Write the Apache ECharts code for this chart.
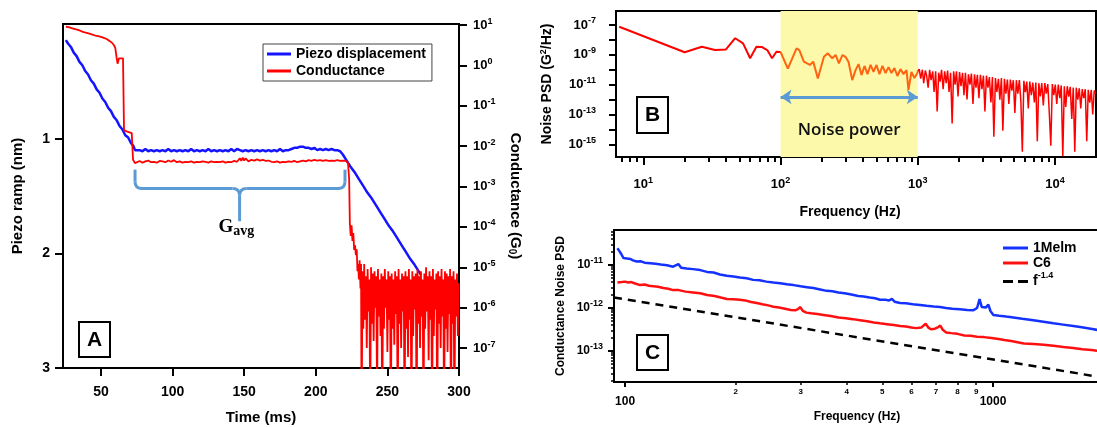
<!DOCTYPE html>
<html><head><meta charset="utf-8">
<script src="https://cdn.jsdelivr.net/npm/echarts@6/dist/echarts.min.js"></script>
<style>html,body{margin:0;padding:0;background:#fff}#c{width:1097px;height:427px}</style>
</head><body><div id="c"></div>
<script>
// ---------- Panel A data ----------
const timeTicks = [50, 100, 150, 200, 250, 300];
const piezoTicks = [1, 2, 3];
const condTicks = [10, 1, 0.1, 0.01, 1e-3, 1e-4, 1e-5, 1e-6, 1e-7];
const piezoA = [
[25.5,0.14],[27,0.17],[29,0.2],[31,0.25],[33,0.28],[35,0.33],[37,0.36],[39,0.41],[41,0.44],[43,0.49],[45,0.52],[47,0.57],[49,0.6],[51,0.65],[53,0.68],[55,0.73],[57,0.76],[59,0.81],[61,0.84],[63,0.89],[65,0.92],[67,0.97],[69,0.99],[71,1.04],[72.5,1.06],[73.8,1.1],[75,1.11],[77,1.1],[79,1.11],[81,1.09],[83,1.11],[85,1.1],[87,1.11],[89,1.1],[91,1.11],[93,1.1],[95,1.11],[97,1.09],[99,1.11],[101,1.1],[103,1.11],[105,1.1],[107,1.11],[109,1.1],[111,1.11],[113,1.09],[115,1.11],[117,1.1],[119,1.11],[121,1.1],[123,1.11],[125,1.09],[127,1.11],[129,1.1],[131,1.11],[133,1.1],[135,1.11],[137,1.1],[139,1.11],[141,1.09],[143,1.11],[145,1.09],[147,1.1],[149,1.11],[151,1.1],[153,1.11],[155,1.1],[157,1.11],[159,1.1],[161,1.11],[163,1.1],[165,1.11],[167,1.1],[169,1.11],[171,1.1],[173,1.11],[175,1.09],[177,1.11],[179,1.1],[181,1.1],[183,1.09],[185,1.08],[187,1.08],[189,1.07],[191,1.07],[193,1.08],[195,1.08],[197,1.09],[199,1.08],[201,1.1],[203,1.09],[205,1.1],[207,1.09],[209,1.1],[211,1.09],[213,1.1],[215,1.1],[217,1.11],[219,1.14],[221,1.18],[224,1.24],[227,1.29],[230,1.35],[233,1.41],[236,1.47],[239,1.52],[242,1.58],[245,1.64],[248,1.7],[251,1.76],[254,1.81],[257,1.87],[260,1.93],[263,1.99],[266,2.05],[269,2.1],[272,2.16],[273.5,2.19]
];
const condA = [
[25.5,9.1],[28,8.7],[30,8.3],[32,7.9],[34,7.6],[36,7.1],[38,6.7],[40,6.4],[42,6.1],[44,5.8],[46,5.5],[48,5.3],[50,5.1],[52,4.8],[54,4.5],[56,4.0],[57.5,3.7],[59,3.2],[60,2.7],[61,1.5],[61.6,1.1],[62.1,1.0],[62.6,1.5],[65.4,1.5],[66.1,0.025],[68.2,0.023],[70,0.022],[71.5,0.021],[72.4,0.0046],[73.8,0.0038],
[75,4.0e-3],[77,4.3e-3],[79,3.9e-3],[81,4.2e-3],[83,4.4e-3],[85,4.0e-3],[87,4.1e-3],[89,3.9e-3],[91,4.3e-3],[93,4.2e-3],[95,4.0e-3],[97,4.4e-3],[99,4.1e-3],[101,4.5e-3],[103,4.0e-3],[105,4.2e-3],[107,3.9e-3],[109,4.1e-3],[111,4.0e-3],[113,4.2e-3],[115,3.9e-3],[117,4.1e-3],[119,4.0e-3],[121,4.2e-3],[123,4.1e-3],[125,3.9e-3],[127,4.2e-3],[129,4.0e-3],[131,4.1e-3],[133,4.0e-3],[135,4.2e-3],[137,3.9e-3],[139,4.1e-3],[141,4.0e-3],[143,4.3e-3],[145,4.1e-3],[147,5.0e-3],[148,4.3e-3],[149,5.2e-3],[150,4.4e-3],[151,5.0e-3],[153,4.2e-3],[155,4.6e-3],[157,4.4e-3],[159,4.7e-3],[161,4.4e-3],[163,4.6e-3],[165,4.3e-3],[167,4.4e-3],[169,4.1e-3],[171,4.0e-3],[173,4.2e-3],[175,3.9e-3],[177,4.1e-3],[179,4.0e-3],[181,4.2e-3],[183,4.1e-3],[185,4.3e-3],[187,4.0e-3],[189,4.2e-3],[191,4.4e-3],[193,4.2e-3],[195,4.5e-3],[197,4.3e-3],[199,4.6e-3],[201,4.4e-3],[203,4.5e-3],[205,4.3e-3],[207,4.5e-3],[209,4.3e-3],[211,4.4e-3],[213,4.3e-3],[215,4.5e-3],[217,4.3e-3],[219,4.4e-3],[221,4.3e-3],
[222.5,3.8e-3],[223.3,1.5e-3],[223.8,1.2e-4],[224.4,6e-5],[225.0,1.1e-4],[225.6,4.5e-5],[226.2,7e-5],[226.8,2.7e-5],[227.4,3.5e-5],[228.0,2e-5],[228.6,2.8e-5],[229.1,8e-6],[229.6,1.2e-5],[230.1,5e-6],[230.6,1.5e-5],[231.2,3e-6],[231.6,1.2e-5],
[232.0,1e-9],[232.6,8e-6],[233.2,3e-7],[233.8,1.2e-5],[234.4,5e-7],[235.0,6e-6],[235.6,1e-7],[236.2,9e-6],[236.8,8e-7],[237.4,5e-6],[238.0,2e-9],[238.6,1e-5],[239.2,4e-7],[239.8,7e-6],[240.4,1.5e-7],[241.0,8e-6],[241.6,1e-6],[242.2,6e-6],[242.8,5e-9],[243.4,9e-6],[244.0,6e-7],[244.6,5e-6],[245.2,2e-7],[245.8,7e-6],[246.4,1e-9],[247.0,6e-6],[247.6,3e-7],[248.2,9e-6],[248.8,1e-6],[249.4,5e-6],[250.0,8e-8],[250.6,8e-6],[251.2,5e-7],[251.8,6e-6],[252.4,1e-9],[253.0,7e-6],[253.6,3e-7],[254.2,5e-6],[254.8,1.2e-7],[255.4,8e-6],[256.0,7e-7],[256.6,6e-6],[257.2,1e-9],[257.8,9e-6],[258.4,4e-7],[259.0,5e-6],[259.6,1e-7],[260.2,7e-6],[260.8,8e-7],[261.4,6e-6],[262.0,1e-9],[262.6,8e-6],[263.2,3e-7],[263.8,6e-6],[264.4,6e-8],[265.0,9e-6],[265.6,5e-7],[266.2,5e-6],[266.8,1e-9],[267.4,8e-6],[268.0,2e-7],[268.6,6e-6],[269.2,9e-7],[269.8,7e-6],[270.4,1e-9],[271.0,9e-6],[271.6,4e-7],[272.2,6e-6],[272.8,1e-7],[273.4,8e-6],[274.0,6e-7],[274.6,5e-6],[275.2,1e-9],[275.8,7e-6],[276.4,3e-7],[277.0,1e-5],[277.6,8e-7],[278.2,6e-6],[278.8,5e-8],[279.4,8e-6],[280.0,5e-7],[280.6,6e-6],[281.2,1e-9],[281.8,9e-6],[282.4,2e-7],[283.0,5e-6],[283.6,9e-7],[284.2,7e-6],[284.8,1e-9],[285.4,8e-6],[286.0,4e-7],[286.6,6e-6],[287.2,1e-7],[287.8,9e-6],[288.4,6e-7],[289.0,5e-6],[289.6,1e-9],[290.2,8e-6],[290.8,3e-7],[291.4,7e-6],[292.0,8e-8],[292.6,6e-6],[293.2,7e-7],[293.8,9e-6],[294.4,1e-9],[295.0,6e-6],[295.6,4e-7],[296.2,8e-6],[296.8,1e-9],[297.4,5e-6],[298.0,6e-7],[298.6,7e-6],[299.2,2e-7],[299.8,4e-6]
];

// ---------- Panel B data ----------
const freqBMajor = [10, 100, 1000, 10000];
const freqBMinor = [7,8,9,20,30,40,50,60,70,80,90,200,300,400,500,600,700,800,900,2000,3000,4000,5000,6000,7000,8000,9000];
const psdBTicks = [1e-7,1e-8,1e-9,1e-10,1e-11,1e-12,1e-13,1e-14,1e-15];
const psdBLabels = [1e-7,1e-9,1e-11,1e-13,1e-15];
const noiseBand = [100, 1000];
const noiseArrowLevel = 1.5e-12;
const psdB = [
[6.67,7.7e-8],[20,1.5e-9],[26.7,3.5e-9],[33.3,2.1e-9],[40,2.3e-9],[46.7,1.3e-8],[53.3,5.9e-9],[60,5.9e-10],[66.7,3.5e-9],[73.3,3.3e-9],[80,2.1e-9],[86.7,5.9e-10],[93.3,1.6e-9],[100,1.55e-9],
[113,1.2e-10],[130.8,2.7e-9],[137,2.1e-9],[147.8,3.5e-10],[163.6,2.1e-10],[173,3.5e-10],[187,2.6e-11],[207,7.4e-10],[221,1.26e-9],[238,5.9e-10],[252,9.8e-10],[266,2.7e-10],[283,9.8e-10],[298,7.1e-10],[313,3.3e-10],[333,2.0e-11],[352,9.5e-11],[370,2.4e-10],[389,4.4e-11],[409,1.8e-10],[430,5.1e-11],[453,2.1e-10],[476,7.1e-11],[500,2.1e-10],[526,5.1e-11],[553,1.8e-10],[582,6.0e-11],[612,1.5e-10],[643,6.0e-11],[676,1.3e-10],[711,3.8e-11],[748,1.1e-10],[787,5.1e-11],[828,9.5e-11],[855,4.4e-12],[899,7.1e-11],[945,2.8e-11],[994,6.0e-11],[1000,7.9e-11],
[1025,1.1e-10],[1050,2.5e-11],[1080,1e-10],[1105,1.26e-11],[1135,8.9e-11],[1160,4e-11],[1190,6.3e-12],[1220,1e-10],[1250,2e-11],[1285,7.9e-11],[1315,3.2e-12],[1350,7.9e-11],[1385,1.6e-13],[1420,6.3e-11],[1455,1.6e-11],[1490,1e-10],[1530,5e-12],[1570,7.9e-11],[1610,1.26e-11],[1650,8.9e-11],[1690,3.2e-12],[1735,6.3e-11],[1780,2.5e-14],[1825,7.9e-11],[1870,1e-11],[1915,7.9e-11],[1965,1.6e-12],[2015,7.1e-11],[2065,7.9e-12],[2120,6.3e-11],[2170,2e-12],[2225,6.3e-11],[2285,1e-12],[2340,5e-11],[2400,1e-11],[2460,5.6e-11],[2525,5e-13],[2590,5e-11],[2655,6.3e-12],[2720,4.5e-11],[2790,1.26e-12],[2860,4.5e-11],[2935,5e-12],[3010,4e-11],[3085,1.6e-13],[3165,4e-11],[3245,6.3e-12],[3325,3.2e-11],[3410,6.3e-13],[3500,3.2e-11],[3585,3.2e-15],[3680,2.8e-11],[3770,3.2e-12],[3870,2.5e-11],[3965,1e-12],[4070,2.8e-11],[4170,8e-15],[4280,2.5e-11],[4385,2.5e-12],[4500,2.2e-11],[4610,5e-13],[4730,2.2e-11],[4850,4e-12],[4970,2e-11],[5100,1.26e-13],[5230,2e-11],[5360,2.5e-12],[5500,2e-11],[5640,7.9e-13],[5780,3.2e-16],[5930,1.8e-11],[6080,3.2e-12],[6230,1.6e-11],[6390,2.5e-13],[6550,1.6e-11],[6720,2e-12],[6890,1.4e-11],[7070,6.3e-13],[7250,1.4e-11],[7430,1.6e-15],[7620,1.26e-11],[7810,1.6e-12],[8010,1.26e-11],[8220,4e-13],[8430,1.26e-11],[8640,2.5e-12],[8860,1.1e-11],[9090,1.26e-13],[9320,8e-16],[9560,1.1e-11],[9800,2e-12],[10050,1e-11],[10300,5e-13],[10570,1e-11],[10840,1.26e-12],[11110,8.9e-12],[11400,1.6e-16],[11690,7.9e-12],[11980,3.2e-13],[12290,7.9e-12],[12600,1.6e-12],[12920,7.1e-12],[13250,5e-14],[13590,6.3e-12],[13940,3.2e-16],[14290,6.3e-12],[14660,1e-12],[15030,5.6e-12],[15410,2.5e-13],[15800,5e-12],[16200,1.26e-12],[16620,5e-12],[17040,1.6e-15],[17470,4.5e-12],[17920,6.3e-13],[18380,4.5e-12],[18840,1e-13],[19320,4e-12],[19810,2.5e-12]
];

// ---------- Panel C data ----------
const freqCMajor = [100, 1000];
const freqCMinor = [200, 300, 400, 500, 600, 700, 800, 900];
const psdCMajor = [1e-11, 1e-12, 1e-13];
const psdCMinor = [2e-14,3e-14,4e-14,5e-14,6e-14,7e-14,8e-14,9e-14,2e-13,3e-13,4e-13,5e-13,6e-13,7e-13,8e-13,9e-13,2e-12,3e-12,4e-12,5e-12,6e-12,7e-12,8e-12,9e-12,2e-11,3e-11,4e-11,5e-11,6e-11];
const melmC = [
[95.3,2.45e-11],[96.5,2.1e-11],[97.8,1.75e-11],[99,1.45e-11],[100,1.32e-11],[101,1.42e-11],[102,1.5e-11],[103.5,1.38e-11],[105,1.28e-11],[107.6,1.2e-11],[110,1.22e-11],[113,1.13e-11],[117,1.1e-11],[121,1.07e-11],[125,1.02e-11],[130,9.8e-12],[135,9.1e-12],[139.6,1.05e-11],[142,8.6e-12],[147,8.3e-12],[153,8.0e-12],[160,7.6e-12],[167,6.9e-12],[174,6.7e-12],[181,6.0e-12],[189,5.6e-12],[197,5.4e-12],[205,5.1e-12],[214,4.9e-12],[223,4.5e-12],[232,4.4e-12],[242,4.1e-12],[253,3.9e-12],[264,3.75e-12],[275,3.55e-12],[287,3.4e-12],[300,3.2e-12],[312,3.05e-12],[325,2.9e-12],[339,2.7e-12],[353,2.5e-12],[366,2.45e-12],[380,2.3e-12],[395,2.2e-12],[412,2.05e-12],[430,1.9e-12],[445,1.85e-12],[462,1.75e-12],[478,1.68e-12],[493,1.55e-12],[510,1.55e-12],[522,1.5e-12],[531,1.62e-12],[540,1.4e-12],[559,1.3e-12],[580,1.28e-12],[605,1.22e-12],[633,1.17e-12],[660,1.12e-12],[690,1.08e-12],[718,1.05e-12],[745,1.0e-12],[775,9.6e-13],[813,9.3e-13],[850,9.0e-13],[885,8.9e-13],[905,1.0e-12],[919,1.6e-12],[932,1.05e-12],[942,9.8e-13],[956,1.02e-12],[971,1.2e-12],[984,8.5e-13],[1002,6.9e-13],[1040,6.6e-13],[1085,6.3e-13],[1136,6.0e-13],[1200,5.6e-13],[1288,5.2e-13],[1370,4.8e-13],[1460,4.4e-13],[1550,4.1e-13],[1653,3.8e-13],[1760,3.5e-13],[1860,3.25e-13],[1953,3.0e-13]
];
const c6C = [
[95.3,3.9e-12],[96.5,4.2e-12],[98,4.0e-12],[100,4.1e-12],[102,3.9e-12],[104,4.0e-12],[106.5,3.7e-12],[109.8,3.4e-12],[113,3.5e-12],[116,3.3e-12],[119.4,3.2e-12],[123,3.1e-12],[127,2.9e-12],[131,2.8e-12],[135,2.6e-12],[140,2.6e-12],[146,2.4e-12],[153,2.3e-12],[160,2.2e-12],[167,2.0e-12],[175,1.9e-12],[182,1.75e-12],[189,1.62e-12],[197,1.6e-12],[205,1.55e-12],[212,1.5e-12],[220,1.38e-12],[228,1.3e-12],[236,1.22e-12],[245,1.15e-12],[253,1.07e-12],[262,1.02e-12],[272,9.6e-13],[282,9.0e-13],[290,8.8e-13],[295,9.4e-13],[299,1.05e-12],[304,8.6e-13],[311,7.8e-13],[320,7.5e-13],[333,7.2e-13],[346,6.9e-13],[362,6.5e-13],[380,6.0e-13],[398,5.8e-13],[416,5.5e-13],[435,5.2e-13],[455,4.9e-13],[474,4.6e-13],[493,4.4e-13],[515,4.2e-13],[537,4.0e-13],[559,3.8e-13],[580,3.7e-13],[600,3.5e-13],[618,3.4e-13],[638,3.5e-13],[656,4.3e-13],[667,3.5e-13],[678,3.2e-13],[695,3.3e-13],[710,3.6e-13],[719,3.9e-13],[730,3.1e-13],[746,2.7e-13],[770,2.6e-13],[800,2.5e-13],[836,2.3e-13],[870,2.25e-13],[905,2.15e-13],[945,2.1e-13],[990,2.0e-13],[1035,1.9e-13],[1073,1.8e-13],[1120,1.7e-13],[1165,1.6e-13],[1213,1.5e-13],[1290,1.45e-13],[1372,1.4e-13],[1460,1.32e-13],[1553,1.23e-13],[1650,1.17e-13],[1750,1.1e-13],[1850,1.05e-13],[1953,1.0e-13]
];
const powerLawC = [[93.3,1.76e-12],[1953,2.48e-14]];

// ---------- styling helpers ----------
const F = '"Liberation Sans", Arial, sans-serif';
const BLACK = '#000';
const supFmt = v => '{b|10}{s|' + Math.round(Math.log10(v)) + '}';
function richSup(base, sup, pad) {
  return {
    b: {fontFamily: F, fontWeight: 'bold', fontSize: base, color: BLACK},
    s: {fontFamily: F, fontWeight: 'bold', fontSize: sup, color: BLACK, padding: [0, 0, pad, 0]}
  };
}
const line2 = {show: true, onZero: false, lineStyle: {color: BLACK, width: 2}};
const tick = (vals, len, w) => ({show: true, inside: false, customValues: vals, length: len, lineStyle: {color: BLACK, width: w || 2}});
const nameStyle = size => ({fontFamily: F, fontWeight: 'bold', fontSize: size, color: BLACK});
const lblStyle = size => ({fontFamily: F, fontWeight: 'bold', fontSize: size, color: BLACK});
const LINE_ICON = 'rect';
const DASH_ICON = 'path://M0,0h10v3h-10z M15,0h10v3h-10z';

const option = {
  animation: false,
  backgroundColor: '#fff',
  grid: [
    {id: 'gA', left: 63, top: 24, width: 396, height: 344, show: true, borderColor: BLACK, borderWidth: 2, backgroundColor: 'rgba(0,0,0,0)', outerBoundsMode: 'none', containLabel: false},
    {id: 'gB', left: 616, top: 11, width: 480, height: 146, show: true, borderColor: BLACK, borderWidth: 2, backgroundColor: 'rgba(0,0,0,0)', outerBoundsMode: 'none', containLabel: false},
    {id: 'gC', left: 614, top: 230, width: 486, height: 152, show: true, borderColor: BLACK, borderWidth: 2, backgroundColor: 'rgba(0,0,0,0)', outerBoundsMode: 'none', containLabel: false}
  ],
  xAxis: [
    {gridIndex: 0, type: 'value', position: 'bottom', min: 23.5, max: 300, axisLine: line2, axisTick: tick(timeTicks, 8),
     axisLabel: Object.assign({customValues: timeTicks, margin: 17}, lblStyle(14)), splitLine: {show: false},
     name: 'Time (ms)', nameLocation: 'middle', nameGap: 42, nameTextStyle: nameStyle(15)},
    {gridIndex: 1, type: 'log', position: 'bottom', min: 6.32, max: 19900, axisLine: line2, axisTick: tick(freqBMajor, 8),
     axisLabel: {customValues: freqBMajor, formatter: supFmt, rich: richSup(13, 9, 8), margin: 19}, splitLine: {show: false},
     name: 'Frequency (Hz)', nameLocation: 'middle', nameGap: 48, nameTextStyle: Object.assign({padding: [0, 12, 0, 0]}, nameStyle(14))},
    {gridIndex: 1, type: 'log', position: 'bottom', min: 6.32, max: 19900, axisLine: {show: false, onZero: false}, axisTick: tick(freqBMinor, 5),
     axisLabel: {show: false}, splitLine: {show: false}},
    {gridIndex: 2, type: 'log', position: 'bottom', min: 93.3, max: 1953, axisLine: line2, axisTick: tick(freqCMajor, 5),
     axisLabel: Object.assign({customValues: freqCMajor, margin: 14, formatter: v => String(Math.round(v))}, lblStyle(12)), splitLine: {show: false},
     name: 'Frequency (Hz)', nameLocation: 'middle', nameGap: 29, nameTextStyle: nameStyle(12)},
    {gridIndex: 2, type: 'log', position: 'bottom', min: 93.3, max: 1953, axisLine: {show: false, onZero: false}, axisTick: tick(freqCMinor, 3, 1.5),
     axisLabel: Object.assign({customValues: freqCMinor, margin: 6, formatter: v => String(Math.round(v / 100))}, lblStyle(8)), splitLine: {show: false}}
  ],
  yAxis: [
    {gridIndex: 0, type: 'value', inverse: true, min: 0, max: 3, position: 'left', axisLine: line2, axisTick: tick(piezoTicks, 8),
     axisLabel: Object.assign({customValues: piezoTicks, margin: 13}, lblStyle(14)), splitLine: {show: false},
     name: 'Piezo ramp (nm)', nameLocation: 'middle', nameGap: 38, nameTextStyle: nameStyle(15)},
    {gridIndex: 0, type: 'log', min: 3.2e-8, max: 10.6, position: 'right', axisLine: line2, axisTick: tick(condTicks, 8),
     axisLabel: {customValues: condTicks, formatter: supFmt, rich: richSup(13, 9, 8), margin: 14}, splitLine: {show: false},
     name: '{n|Conductance (G}{u|0}{n|)}', nameLocation: 'middle', nameRotate: -90, nameGap: 48,
     nameTextStyle: {rich: {n: nameStyle(15), u: Object.assign({padding: [7, 0, 0, 0]}, nameStyle(10))}}},
    {gridIndex: 1, type: 'log', min: 1.41e-16, max: 8.7e-7, position: 'left', axisLine: line2, axisTick: tick(psdBTicks, 7),
     axisLabel: {customValues: psdBLabels, formatter: supFmt, rich: richSup(13, 9, 8), margin: 20}, splitLine: {show: false},
     name: '{n|Noise PSD (G}{u|2}{n|/Hz)}', nameLocation: 'middle', nameGap: 61,
     nameTextStyle: {rich: {n: nameStyle(14), u: Object.assign({padding: [0, 0, 7, 0]}, nameStyle(9))}}},
    {gridIndex: 2, type: 'log', min: 1.9e-14, max: 6.5e-11, position: 'left', axisLine: line2, axisTick: tick(psdCMajor, 6),
     axisLabel: {customValues: psdCMajor, formatter: supFmt, rich: richSup(12, 9, 8), margin: 11}, splitLine: {show: false},
     name: 'Conductance Noise PSD', nameLocation: 'middle', nameGap: 47, nameTextStyle: nameStyle(12)},
    {gridIndex: 2, type: 'log', min: 1.9e-14, max: 6.5e-11, position: 'left', axisLine: {show: false, onZero: false}, axisTick: tick(psdCMinor, 3, 1.5),
     axisLabel: {show: false}, splitLine: {show: false}}
  ],
  legend: [
    {id: 'legA', data: [{name: 'Piezo displacement', icon: LINE_ICON}, {name: 'Conductance', icon: LINE_ICON}], left: 263, top: 44, orient: 'vertical', selectedMode: false,
     itemWidth: 24, itemHeight: 3, itemGap: 3, padding: [3, 6, 3, 4], borderColor: '#444', borderWidth: 1, backgroundColor: '#fff',
     textStyle: lblStyle(14)},
    {id: 'legC', data: [{name: '1Melm', icon: LINE_ICON}, {name: 'C6', icon: LINE_ICON}, {name: 'f-1.4', icon: DASH_ICON}], left: 1003, top: 241, orient: 'vertical', selectedMode: false,
     itemWidth: 25, itemHeight: 3, itemGap: 1, padding: 0,
     formatter: n => n === 'f-1.4' ? '{t|f}{s|-1.4}' : '{t|' + n + '}',
     textStyle: {rich: {t: lblStyle(14), s: Object.assign({padding: [0, 0, 12, 0]}, lblStyle(9))}}}
  ],
  series: [
    {name: 'Piezo displacement', type: 'line', xAxisIndex: 0, yAxisIndex: 0, data: piezoA, symbol: 'none', showSymbol: false,
     lineStyle: {color: '#1414ff', width: 2.5}, itemStyle: {color: '#1414ff'}, z: 3},
    {name: 'Conductance', type: 'line', xAxisIndex: 0, yAxisIndex: 1, data: condA, symbol: 'none', showSymbol: false,
     lineStyle: {color: '#ff0000', width: 1.8}, itemStyle: {color: '#ff0000'}, z: 4},
    {name: 'psdLow', type: 'line', xAxisIndex: 1, yAxisIndex: 2, data: psdB.filter(p => p[0] <= noiseBand[0]), symbol: 'none', showSymbol: false,
     lineStyle: {color: '#ff0000', width: 2}, itemStyle: {color: '#ff0000'}, z: 3,
     markArea: {silent: true, itemStyle: {color: '#fcfaaa', opacity: 1},
       label: {show: true, position: 'insideBottom', distance: 18, formatter: 'Noise power', fontFamily: '"Open Sans", sans-serif', fontWeight: 600, fontSize: 17, color: '#111'},
       data: [[{xAxis: noiseBand[0]}, {xAxis: noiseBand[1]}]]}},
    {name: 'psdMid', type: 'line', xAxisIndex: 1, yAxisIndex: 2, data: psdB.filter(p => p[0] >= noiseBand[0] && p[0] <= noiseBand[1]), symbol: 'none', showSymbol: false,
     lineStyle: {color: '#ff6412', width: 2}, itemStyle: {color: '#ff6412'}, z: 3,
     markLine: {silent: true, symbol: ['arrow', 'arrow'], symbolSize: [11, 11], lineStyle: {color: '#5b9bd5', width: 3, type: 'solid'}, label: {show: false},
       data: [[{coord: [noiseBand[0], noiseArrowLevel]}, {coord: [noiseBand[1], noiseArrowLevel]}]]}},
    {name: 'psdHigh', type: 'line', xAxisIndex: 1, yAxisIndex: 2, data: psdB.filter(p => p[0] >= noiseBand[1]), symbol: 'none', showSymbol: false,
     lineStyle: {color: '#ff0000', width: 1.5}, itemStyle: {color: '#ff0000'}, z: 3},
    {name: '1Melm', type: 'line', xAxisIndex: 3, yAxisIndex: 3, data: melmC, symbol: 'none', showSymbol: false,
     lineStyle: {color: '#1432ff', width: 2.5}, itemStyle: {color: '#1432ff'}, z: 3},
    {name: 'C6', type: 'line', xAxisIndex: 3, yAxisIndex: 3, data: c6C, symbol: 'none', showSymbol: false,
     lineStyle: {color: '#ff1010', width: 2.5}, itemStyle: {color: '#ff1010'}, z: 3},
    {name: 'f-1.4', type: 'line', xAxisIndex: 3, yAxisIndex: 3, data: powerLawC, symbol: 'none', showSymbol: false,
     lineStyle: {color: '#000', width: 2.5, type: [8, 6]}, itemStyle: {color: '#000'}, z: 3}
  ]
};

const chart = echarts.init(document.getElementById('c'), null, {renderer: 'canvas'});
chart.setOption(option);

// panel letter boxes
function letterBox(id, letter, x, y, w, h) {
  return {type: 'group', id: id, x: x, y: y, z: 50, children: [
    {type: 'rect', shape: {x: 0, y: 0, width: w, height: h}, style: {fill: '#fff', stroke: BLACK, lineWidth: 2}},
    {type: 'text', x: w / 2, y: h / 2 + 0.5, style: {text: letter, font: 'bold 21px ' + F, fill: BLACK, align: 'center', verticalAlign: 'middle'}}]};
}

// curly brace annotation (G_avg) placed through panel A's scales
const brace = {tStart: 73.8, tEnd: 220.4, tMid: 146.8, top: 1.27, bar: 1.435, tip: 1.72};
const P = (t, v) => chart.convertToPixel({xAxisIndex: 0, yAxisIndex: 0}, [t, v]);
const [x1, yTop] = P(brace.tStart, brace.top);
const [x2] = P(brace.tEnd, brace.top);
const [xm, yH] = P(brace.tMid, brace.bar);
const yTip = P(brace.tMid, brace.tip)[1];
const bs = {stroke: '#5b9bd5', lineWidth: 3, fill: null};
const seg = (a, b, c, d) => ({type: 'line', shape: {x1: a, y1: b, x2: c, y2: d}, style: Object.assign({}, bs)});
const qc = (a, b, cx, cy, c, d) => ({type: 'bezierCurve', shape: {x1: a, y1: b, cpx1: cx, cpy1: cy, x2: c, y2: d}, style: Object.assign({}, bs)});
const r = 7;
chart.setOption({graphic: [
  letterBox('boxA', 'A', 79, 322, 31, 35),
  letterBox('boxB', 'B', 637, 97, 31, 36),
  letterBox('boxC', 'C', 637, 335, 31, 35),
  {type: 'group', id: 'brace', z: 40, children: [
    seg(x1, yTop, x1, yH - r),
    qc(x1, yH - r, x1, yH, x1 + r, yH),
    seg(x1 + r, yH, xm - r, yH),
    qc(xm - r, yH, xm, yH, xm, yH + r),
    qc(xm + r, yH, xm, yH, xm, yH + r),
    seg(xm, yH + r, xm, yTip),
    seg(xm + r, yH, x2 - r, yH),
    qc(x2 - r, yH, x2, yH, x2, yH - r),
    seg(x2, yH - r, x2, yTop)
  ]},
  {type: 'text', id: 'gavg', z: 40, x: xm - 21, y: yTip + 6, style: {
    text: '{g|G}{s|avg}', verticalAlign: 'middle', align: 'left',
    rich: {g: {fontFamily: '"Liberation Serif", "DejaVu Serif", serif', fontWeight: 'bold', fontSize: 19, fill: '#000', color: '#000'},
           s: {fontFamily: '"Liberation Serif", "DejaVu Serif", serif', fontWeight: 'bold', fontSize: 14, fill: '#000', color: '#000', padding: [9, 0, 0, 0]}}}}
]});
</script>
</body></html>
